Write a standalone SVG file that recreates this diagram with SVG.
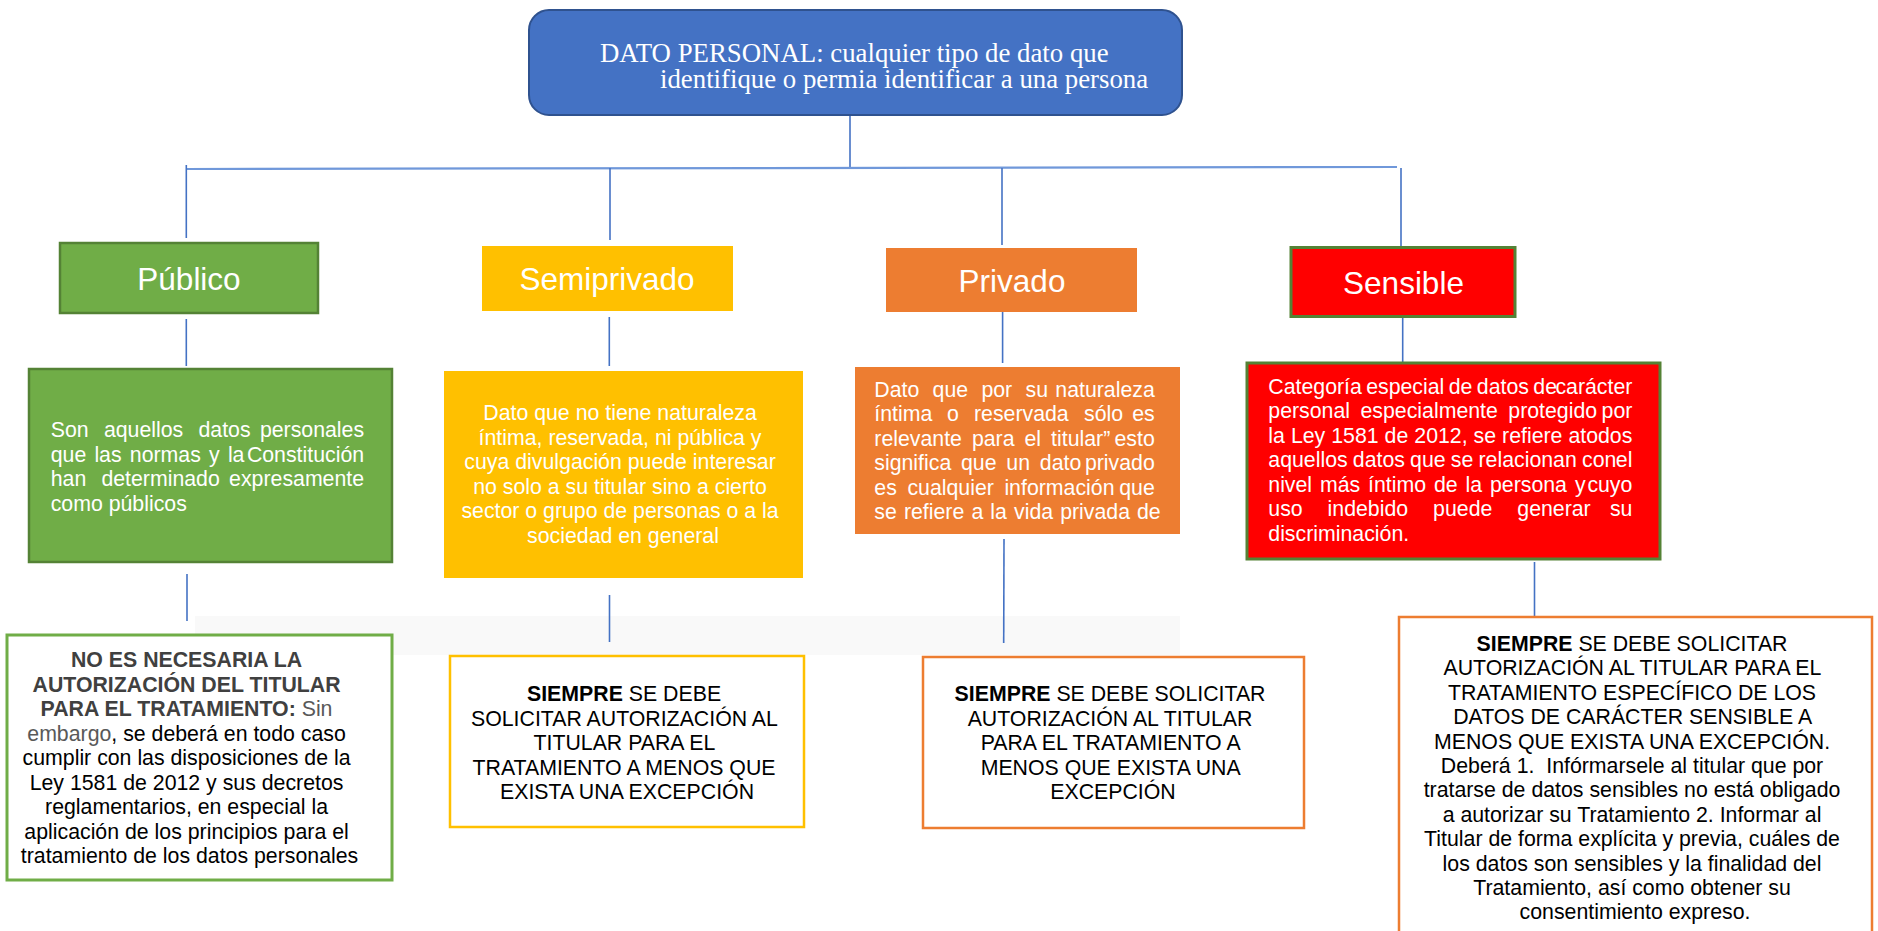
<svg xmlns="http://www.w3.org/2000/svg" width="1878" height="931" viewBox="0 0 1878 931">
<style>
.c{stroke:#4472C4;stroke-width:1.6;fill:none}
.h{stroke:#7098DA;stroke-width:2.2;fill:none}
.lbl{font-family:"Liberation Sans",Arial,sans-serif;font-size:31.5px;fill:#fff;text-anchor:middle}
.w{font-family:"Liberation Sans",Arial,sans-serif;font-size:21.3px;fill:#fff}
.k{font-family:"Liberation Sans",Arial,sans-serif;font-size:21.3px;fill:#000;text-anchor:middle}
.e{text-anchor:end}
.m{text-anchor:middle}
.b{font-weight:bold}
</style>
<rect width="1878" height="931" fill="#fff"/>
<rect x="195" y="616" width="985" height="39" fill="#F9F9F9"/>
<g id="connectors">
<line class="c" x1="850" y1="115" x2="850" y2="168"/>
<line class="h" x1="186" y1="169" x2="1397" y2="167"/>
<line class="c" x1="186.3" y1="165" x2="186.3" y2="238"/>
<line class="c" x1="610" y1="168" x2="610" y2="240"/>
<line class="c" x1="1002" y1="168" x2="1002" y2="245"/>
<line class="c" x1="1401" y1="168" x2="1401" y2="247"/>
<line class="c" x1="186.3" y1="319" x2="186.3" y2="366"/>
<line class="c" x1="609.3" y1="317" x2="609.3" y2="366"/>
<line class="c" x1="1002.6" y1="312" x2="1002.6" y2="363"/>
<line class="c" x1="1402.7" y1="317" x2="1402.7" y2="363"/>
<line class="c" x1="187" y1="574" x2="187" y2="621"/>
<line class="c" x1="609.5" y1="595" x2="609.5" y2="642"/>
<line class="c" x1="1004" y1="539" x2="1003.7" y2="643"/>
<line class="c" x1="1534.5" y1="562" x2="1534.5" y2="616"/>
</g>
<g id="top">
<rect x="529" y="10" width="653" height="105" rx="20" fill="#4472C4" stroke="#2F528F" stroke-width="2"/>
<text font-family="'Liberation Serif','Times New Roman',serif" font-size="26.8" fill="#fff"><tspan x="600" y="62">DATO PERSONAL: cualquier tipo de dato que</tspan><tspan x="660" y="88">identifique o permia identificar a una persona</tspan></text>
</g>
<g id="publico">
<rect x="60" y="243" width="258" height="70" fill="#70AD47" stroke="#548235" stroke-width="2.5"/>
<text class="lbl" x="189" y="290">Público</text>
</g>
<g id="semiprivado">
<rect x="482" y="246" width="251" height="65" fill="#FFC000"/>
<text class="lbl" x="607" y="290">Semiprivado</text>
</g>
<g id="privado">
<rect x="886" y="248" width="251" height="64" fill="#ED7D31"/>
<text class="lbl" x="1012" y="291.5">Privado</text>
</g>
<g id="sensible">
<rect x="1291" y="247.5" width="224" height="69" fill="#FF0000" stroke="#548235" stroke-width="3"/>
<text class="lbl" x="1403.5" y="294">Sensible</text>
</g>
<g id="publico-desc">
<rect x="29" y="369" width="363" height="193" fill="#70AD47" stroke="#548235" stroke-width="2.5"/>
<text class="w">
<tspan x="50.7" y="437">Son</tspan><tspan x="103.9" y="437">aquellos</tspan><tspan x="198.5" y="437">datos</tspan><tspan class="e" x="370" y="437">personales</tspan>
<tspan x="50.7" y="461.5">que</tspan><tspan x="94.4" y="461.5">las</tspan><tspan x="129.8" y="461.5">normas</tspan><tspan x="209" y="461.5">y</tspan><tspan x="227.9" y="461.5">la</tspan><tspan class="e" x="370" y="461.5">Constitución</tspan>
<tspan x="50.7" y="486">han</tspan><tspan x="101.4" y="486">determinado</tspan><tspan class="e" x="370" y="486">expresamente</tspan>
<tspan x="50.7" y="510.5">como públicos</tspan>
</text>
</g>
<g id="semiprivado-desc">
<rect x="444" y="371" width="359" height="207" fill="#FFC000"/>
<text class="w m">
<tspan x="623" y="420">Dato que no tiene naturaleza</tspan>
<tspan x="623" y="444.5">íntima, reservada, ni pública y</tspan>
<tspan x="623" y="469">cuya divulgación puede interesar</tspan>
<tspan x="623" y="493.5">no solo a su titular sino a cierto</tspan>
<tspan x="623" y="518">sector o grupo de personas o a la</tspan>
<tspan x="623" y="542.5">sociedad en general</tspan>
</text>
</g>
<g id="privado-desc">
<rect x="855" y="367" width="325" height="167" fill="#ED7D31"/>
<text class="w">
<tspan x="874.3" y="396.7">Dato</tspan><tspan x="932.6" y="396.7">que</tspan><tspan x="981.4" y="396.7">por</tspan><tspan x="1025.5" y="396.7">su</tspan><tspan class="e" x="1160.7" y="396.7">naturaleza</tspan>
<tspan x="874.3" y="421">íntima</tspan><tspan x="947" y="421">o</tspan><tspan x="974" y="421">reservada</tspan><tspan x="1084" y="421">sólo</tspan><tspan class="e" x="1160.7" y="421">es</tspan>
<tspan x="874.3" y="445.7">relevante</tspan><tspan x="971.9" y="445.7">para</tspan><tspan x="1024.5" y="445.7">el</tspan><tspan x="1051.1" y="445.7">titular”</tspan><tspan class="e" x="1160.7" y="445.7">esto</tspan>
<tspan x="874.3" y="470">significa</tspan><tspan x="961" y="470">que</tspan><tspan x="1006.3" y="470">un</tspan><tspan x="1039.8" y="470">dato</tspan><tspan class="e" x="1160.7" y="470">privado</tspan>
<tspan x="874.3" y="495">es</tspan><tspan x="907.4" y="495">cualquier</tspan><tspan x="1004.4" y="495">información</tspan><tspan class="e" x="1160.7" y="495">que</tspan>
<tspan x="874.3" y="519.3">se</tspan><tspan x="903.9" y="519.3">refiere</tspan><tspan x="971.4" y="519.3">a</tspan><tspan x="990.3" y="519.3">la</tspan><tspan x="1014" y="519.3">vida</tspan><tspan x="1060.2" y="519.3">privada</tspan><tspan class="e" x="1160.7" y="519.3">de</tspan>
</text>
</g>
<g id="sensible-desc">
<rect x="1247" y="363" width="413" height="196" fill="#FF0000" stroke="#548235" stroke-width="3"/>
<text class="w">
<tspan x="1268.3" y="393.5">Categoría</tspan><tspan x="1366.2" y="393.5">especial</tspan><tspan x="1448.7" y="393.5">de</tspan><tspan x="1476.8" y="393.5">datos</tspan><tspan x="1533.3" y="393.5">de</tspan><tspan class="e" x="1638.3" y="393.5">carácter</tspan>
<tspan x="1268.3" y="418">personal</tspan><tspan x="1360.5" y="418">especialmente</tspan><tspan x="1508.3" y="418">protegido</tspan><tspan class="e" x="1638.3" y="418">por</tspan>
<tspan x="1268.3" y="442.5">la</tspan><tspan x="1290.9" y="442.5">Ley</tspan><tspan x="1331.2" y="442.5">1581</tspan><tspan x="1384.6" y="442.5">de</tspan><tspan x="1414.3" y="442.5">2012,</tspan><tspan x="1473.6" y="442.5">se</tspan><tspan x="1502.1" y="442.5">refiere</tspan><tspan x="1568.5" y="442.5">a</tspan><tspan class="e" x="1638.3" y="442.5">todos</tspan>
<tspan x="1268.3" y="467">aquellos</tspan><tspan x="1352.8" y="467">datos</tspan><tspan x="1410.1" y="467">que</tspan><tspan x="1450.8" y="467">se</tspan><tspan x="1478.5" y="467">relacionan</tspan><tspan x="1582" y="467">con</tspan><tspan class="e" x="1638.3" y="467">el</tspan>
<tspan x="1268.3" y="491.5">nivel</tspan><tspan x="1320" y="491.5">más</tspan><tspan x="1368.1" y="491.5">íntimo</tspan><tspan x="1434" y="491.5">de</tspan><tspan x="1465.6" y="491.5">la</tspan><tspan x="1490" y="491.5">persona</tspan><tspan x="1574.9" y="491.5">y</tspan><tspan class="e" x="1638.3" y="491.5">cuyo</tspan>
<tspan x="1268.3" y="516">uso</tspan><tspan x="1327.6" y="516">indebido</tspan><tspan x="1433.1" y="516">puede</tspan><tspan x="1517.3" y="516">generar</tspan><tspan class="e" x="1638.3" y="516">su</tspan>
<tspan x="1268.3" y="540.5">discriminación.</tspan>
</text>
</g>
<g id="publico-nota">
<rect x="7" y="635" width="385" height="245" fill="#fff" stroke="#70AD47" stroke-width="3"/>
<text class="k">
<tspan x="189.5" y="667" class="b" fill="#404040">NO ES NECESARIA LA</tspan>
<tspan x="189.5" y="691.5" class="b" fill="#404040">AUTORIZACIÓN DEL TITULAR</tspan>
<tspan x="189.5" y="716"><tspan class="b" fill="#404040">PARA EL TRATAMIENTO:</tspan><tspan fill="#595959"> Sin</tspan></tspan>
<tspan x="189.5" y="740.5"><tspan fill="#595959">embargo</tspan>, se deberá en todo caso</tspan>
<tspan x="189.5" y="765">cumplir con las disposiciones de la</tspan>
<tspan x="189.5" y="789.5">Ley 1581 de 2012 y sus decretos</tspan>
<tspan x="189.5" y="814">reglamentarios, en especial la</tspan>
<tspan x="189.5" y="838.5">aplicación de los principios para el</tspan>
<tspan x="189.5" y="863">tratamiento de los datos personales</tspan>
</text>
</g>
<g id="semiprivado-nota">
<rect x="450" y="656" width="354" height="171" fill="#fff" stroke="#FFC000" stroke-width="2.5"/>
<text class="k">
<tspan x="627" y="701"><tspan class="b">SIEMPRE</tspan> SE DEBE</tspan>
<tspan x="627" y="725.5">SOLICITAR AUTORIZACIÓN AL</tspan>
<tspan x="627" y="750">TITULAR PARA EL</tspan>
<tspan x="627" y="774.5">TRATAMIENTO A MENOS QUE</tspan>
<tspan x="627" y="799">EXISTA UNA EXCEPCIÓN</tspan>
</text>
</g>
<g id="privado-nota">
<rect x="923" y="657" width="381" height="171" fill="#fff" stroke="#ED7D31" stroke-width="2.5"/>
<text class="k">
<tspan x="1113" y="701"><tspan class="b">SIEMPRE</tspan> SE DEBE SOLICITAR</tspan>
<tspan x="1113" y="725.5">AUTORIZACIÓN AL TITULAR</tspan>
<tspan x="1113" y="750">PARA EL TRATAMIENTO A</tspan>
<tspan x="1113" y="774.5">MENOS QUE EXISTA UNA</tspan>
<tspan x="1113" y="799">EXCEPCIÓN</tspan>
</text>
</g>
<g id="sensible-nota">
<rect x="1399" y="617" width="473" height="330" fill="#fff" stroke="#ED7D31" stroke-width="2.5"/>
<text class="k">
<tspan x="1635" y="651"><tspan class="b">SIEMPRE</tspan> SE DEBE SOLICITAR</tspan>
<tspan x="1635" y="675.4">AUTORIZACIÓN AL TITULAR PARA EL</tspan>
<tspan x="1635" y="699.8">TRATAMIENTO ESPECÍFICO DE LOS</tspan>
<tspan x="1635" y="724.2">DATOS DE CARÁCTER SENSIBLE A</tspan>
<tspan x="1635" y="748.6">MENOS QUE EXISTA UNA EXCEPCIÓN.</tspan>
<tspan x="1635" y="773" xml:space="preserve">Deberá 1.  Infórmarsele al titular que por</tspan>
<tspan x="1635" y="797.4">tratarse de datos sensibles no está obligado</tspan>
<tspan x="1635" y="821.8">a autorizar su Tratamiento 2. Informar al</tspan>
<tspan x="1635" y="846.2">Titular de forma explícita y previa, cuáles de</tspan>
<tspan x="1635" y="870.6">los datos son sensibles y la finalidad del</tspan>
<tspan x="1635" y="895">Tratamiento, así como obtener su</tspan>
<tspan x="1635" y="919.4">consentimiento expreso.</tspan>
</text>
</g>
</svg>
